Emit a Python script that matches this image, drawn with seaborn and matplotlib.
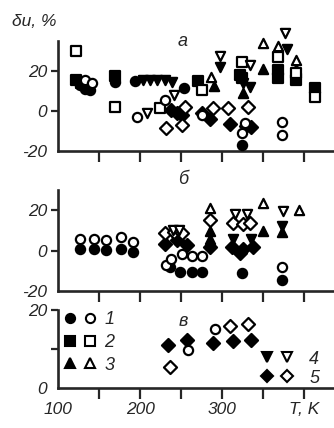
import numpy as np
import pandas as pd
import matplotlib
matplotlib.use('Agg')
import matplotlib.pyplot as plt
from matplotlib.lines import Line2D
from matplotlib.legend_handler import HandlerTuple
import seaborn as sns

# ---- data: (T, du) pairs ----
# panel a
a_circ_f = [(126, 13), (132, 11), (139, 10.5), (169, 14.5), (194, 15), (253, 11.5), (324, -17)]
a_circ_o = [(133, 15.5), (141, 14), (196, -3), (230, 5.5), (276, -2), (328, -6), (324, -11), (373, -5.5), (373, -12)]
a_sq_f = [(122, 15.5), (128, 14), (169, 17.5), (271, 15), (322, 18), (324, 16.5), (369, 20.5), (369, 16.5), (391, 15.5), (414, 11.5)]
a_sq_o = [(122, 30), (169, 2), (224, 1.5), (275, 10.5), (324, 24.5), (369, 27), (391, 19), (414, 7)]
a_tri_f = [(290, 12.5), (326, 9), (350, 21), (391, 21)]
a_tri_o = [(287, 17), (350, 34), (369, 32.5), (391, 25.5)]
a_dtri_f = [(203, 15.5), (212, 15.5), (221, 15.5), (230, 15.5), (239, 14.5), (298, 22), (326, 14), (334, 12), (379, 31)]
a_dtri_o = [(208, -1), (241, 8), (298, 27.5), (334, 23), (377, 39)]
a_dia_f = [(238, 0.5), (245, -1), (251, -2), (275, -1), (285, -4), (310, -6.5), (330, -7.5), (336, -8)]
a_dia_o = [(232, -8.5), (251, -7), (255, 2), (289, 1.5), (308, 1.5), (332, 2)]

# panel b
b_circ_f = [(126, 1), (143, 1), (158, 0.5), (176, 1), (191, -0.5), (236, -8), (249, -10.5), (263, -10.5), (275, -10.5), (324, -11), (373, -14.5)]
b_circ_o = [(126, 5.5), (143, 5.5), (158, 5), (176, 6.5), (191, 4.5), (232, -7), (238, -4), (251, -1.5), (263, -2.5), (275, -2.5), (373, -8)]
b_tri_f = [(285, 9.5), (285, 5.5), (350, 9.5), (373, 9)]
b_tri_o = [(285, 21), (350, 23.5), (394, 20)]
b_dtri_f = [(241, 7), (250, 6.5), (314, 5.5), (336, 5.5), (373, 12)]
b_dtri_o = [(240, 10), (248, 10), (316, 18), (331, 18), (375, 19.5)]
b_dia_f = [(230, 3.5), (245, 5), (257, 3), (285, 2), (312, 2), (326, 1), (338, 2), (322, -1)]
b_dia_o = [(230, 8.5), (241, 9), (251, 8.5), (285, 15), (314, 13.5), (326, 13), (334, 13.5)]

# panel c
c_circ_o = [(259, 9.7), (291, 15)]
c_dia_f = [(234, 11), (257, 12.3), (289, 11.5), (314, 12), (335, 12.3)]
c_dia_o = [(236, 5.5), (310, 16), (332, 16.5)]

markers = {'1': 'o', '2': 's', '3': '^', '4': 'v', '5': 'D'}

sns.set_style('ticks')
plt.rcParams['font.family'] = ['Liberation Sans', 'DejaVu Sans']
plt.rcParams['font.style'] = 'italic'
plt.rcParams['font.size'] = 12.5


def draw(ax, series):
    for kind, filled, pts in series:
        pts = np.array(pts, dtype=float)
        sns.scatterplot(x=pts[:, 0], y=pts[:, 1], ax=ax, marker=markers[kind],
                        s=44, color='black' if filled else 'white',
                        edgecolor='black', linewidth=1.6, clip_on=False,
                        zorder=3 if filled else 4, legend=False)


fig = plt.figure(figsize=(3.34, 4.28), dpi=100)
L, W = 0.1749, 0.825
ax_a = fig.add_axes([L, 0.6472, W, 0.2570])
ax_b = fig.add_axes([L, 0.3201, W, 0.2360])
ax_c = fig.add_axes([L, 0.0935, W, 0.1822])

draw(ax_a, [('2', True, a_sq_f), ('1', True, a_circ_f), ('4', True, a_dtri_f),
            ('3', True, a_tri_f), ('5', True, a_dia_f),
            ('2', False, a_sq_o), ('1', False, a_circ_o), ('4', False, a_dtri_o),
            ('3', False, a_tri_o), ('5', False, a_dia_o)])
draw(ax_b, [('1', True, b_circ_f), ('5', True, b_dia_f), ('4', True, b_dtri_f),
            ('3', True, b_tri_f),
            ('1', False, b_circ_o), ('5', False, b_dia_o), ('4', False, b_dtri_o),
            ('3', False, b_tri_o)])
draw(ax_c, [('5', True, c_dia_f), ('1', False, c_circ_o), ('5', False, c_dia_o)])

ax_a.set_ylim(-20, 35)
ax_b.set_ylim(-20, 30)
ax_c.set_ylim(0, 20)

for ax in (ax_a, ax_b, ax_c):
    ax.set_xlim(100, 437)
    sns.despine(ax=ax)
    for s in ('left', 'bottom'):
        ax.spines[s].set_linewidth(1.9)
    ax.set_xticks([100, 150, 200, 250, 300, 350, 400])
    ax.tick_params(axis='x', direction='out', length=8, width=1.6, pad=2)
    ax.tick_params(axis='y', direction='out', length=5, width=1.6, pad=3)
    ax.xaxis.get_major_ticks()[0].tick1line.set_visible(False)
    ax.set_xlabel('')
    ax.set_ylabel('')

for ax in (ax_a, ax_b):
    ax.set_xticklabels([])
    ax.set_yticks([-20, 0, 20], labels=['-20', '0', '20'])
    ax.yaxis.get_major_ticks()[0].tick1line.set_visible(False)

ax_c.set_xticks([100, 150, 200, 250, 300, 350, 400],
                labels=['100', '', '200', '', '300', '', 'T, K'])
ax_c.set_yticks([0, 10, 20], labels=['0', '', '20'])
ax_c.yaxis.get_major_ticks()[0].tick1line.set_visible(False)

# legends


def pair(m):
    f = Line2D([], [], ls='none', marker=m, ms=6.6, mfc='black', mec='black', mew=1.5)
    o = Line2D([], [], ls='none', marker=m, ms=6.6, mfc='white', mec='black', mew=1.5)
    return (f, o)


leg1 = ax_c.legend([pair('o'), pair('s'), pair('^')], ['1', '2', '3'],
                   handler_map={tuple: HandlerTuple(ndivide=None, pad=0.56)},
                   loc='upper left', bbox_to_anchor=(0.026, 0.985),
                   frameon=False, borderpad=0, borderaxespad=0,
                   handlelength=1.6, handletextpad=0.56, labelspacing=0.32,
                   fontsize=13)
ax_c.add_artist(leg1)
ax_c.legend([pair('v'), pair('D')], ['4', '5'],
            handler_map={tuple: HandlerTuple(ndivide=None, pad=0.56)},
            loc='lower left', bbox_to_anchor=(0.74, 0.015),
            frameon=False, borderpad=0, borderaxespad=0,
            handlelength=1.6, handletextpad=1.0, labelspacing=0.12,
            fontsize=13)

fig.text(12 / 334, 1 - 22 / 428, 'δu, %', fontsize=12.5, va='center', ha='left')
fig.text(183 / 334, 1 - 41 / 428, 'а', fontsize=13, va='center', ha='center')
fig.text(183 / 334, 1 - 179 / 428, 'б', fontsize=13, va='center', ha='center')
fig.text(183 / 334, 1 - 322 / 428, 'в', fontsize=13, va='center', ha='center')

fig.savefig('out.png', dpi=100)
